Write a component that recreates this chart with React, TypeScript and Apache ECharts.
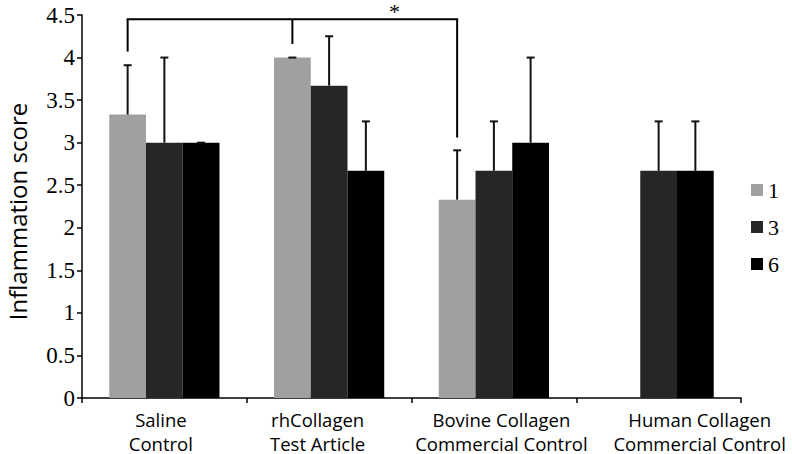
import React, { useEffect, useRef } from "react";
import * as echarts from "echarts";

const categories = [
  "Saline\nControl",
  "rhCollagen\nTest Article",
  "Bovine Collagen\nCommercial Control",
  "Human Collagen\nCommercial Control",
];
const seriesNames = ["1", "3", "6"];
const day1 = [3.33, 4.0, 2.33, null];
const day3 = [3.0, 3.67, 2.67, 2.67];
const day6 = [3.0, 2.67, 3.0, 2.67];
const err1 = [0.58, 0, 0.58, null];
const err3 = [1.0, 0.58, 0.58, 0.58];
const err6 = [0, 0.58, 1.0, 0.58];
const yTicks = [0, 0.5, 1, 1.5, 2, 2.5, 3, 3.5, 4, 4.5];

// significance bracket: legs over the "1" bar of each group
const bracketLegs = [
  { cat: 0, bottom: 4.07 },
  { cat: 1, bottom: 4.16 },
  { cat: 2, bottom: 3.06 },
];
const bracketTop = 4.45;
const starValue = 4.68;

const colors = ["#a0a0a0", "#262626", "#000000"];
const barFrac = 0.223;
const labelShift = [-3.5, -11.5, 7.5, 41];

export default function App() {
  const ref = useRef<HTMLDivElement>(null);
  useEffect(() => {
    if (!ref.current) return;
    const chart = echarts.init(ref.current, null, { renderer: "svg" });
    const vals = [day1, day3, day6];
    const errs = [err1, err3, err6];

    const rich: any = {};
    labelShift.forEach((d, i) => {
      rich["c" + i] = {
        fontFamily: "Open Sans",
        fontSize: 18.5,
        lineHeight: 24,
        color: "#000",
        padding: d >= 0 ? [0, 0, 0, 2 * d] : [0, -2 * d, 0, 0],
      };
    });

    const barSeries = seriesNames.map((name, k) => ({
      name,
      type: "bar",
      data: vals[k],
      barWidth: barFrac * 100 + "%",
      barGap: "0%",
      itemStyle: { color: colors[k] },
    }));

    const errSeries = seriesNames.map((name, k) => ({
      name: "err" + name,
      type: "custom",
      z: 5,
      clip: false,
      encode: { x: 0, y: 1 },
      data: categories
        .map((_, i) => [i, vals[k][i], errs[k][i]])
        .filter((d) => d[1] != null && d[2] != null),
      renderItem: (params: any, api: any) => {
        const idx = api.value(0);
        const v = api.value(1);
        const e = api.value(2);
        const catW = api.size([1, 0])[0];
        const base = api.coord([idx, v]);
        const top = api.coord([idx, v + e]);
        const x = base[0] + (k - 1) * barFrac * catW;
        const st = { stroke: "#111", lineWidth: 2 };
        return {
          type: "group",
          children: [
            { type: "line", shape: { x1: x, y1: base[1], x2: x, y2: top[1] }, style: st },
            { type: "line", shape: { x1: x - 4, y1: top[1], x2: x + 4, y2: top[1] }, style: st },
          ],
        };
      },
    }));

    const bracketSeries = {
      name: "bracket",
      type: "custom",
      z: 6,
      clip: false,
      silent: true,
      encode: { x: 0, y: 1 },
      data: [[0, bracketTop]],
      renderItem: (params: any, api: any) => {
        const catW = api.size([1, 0])[0];
        const off = -barFrac * catW;
        const topY = api.coord([0, bracketTop])[1];
        const legs = bracketLegs.map((l) => {
          const p = api.coord([l.cat, l.bottom]);
          return [p[0] + off, p[1]];
        });
        const st = { stroke: "#000", lineWidth: 2, fill: null };
        const children: any[] = [
          {
            type: "line",
            shape: { x1: legs[0][0] - 1, y1: topY, x2: legs[2][0] + 1, y2: topY },
            style: st,
          },
        ];
        legs.forEach((l) => {
          children.push({
            type: "line",
            shape: { x1: l[0], y1: topY, x2: l[0], y2: l[1] },
            style: st,
          });
        });
        const sx = legs[1][0] + 0.62 * (legs[2][0] - legs[1][0]);
        const sy = Math.max(0, api.coord([0, starValue])[1]);
        children.push({
          type: "text",
          style: {
            text: "*",
            x: sx,
            y: sy,
            font: "22px 'Liberation Serif'",
            textAlign: "center",
            textVerticalAlign: "top",
            fill: "#000",
          },
        });
        return { type: "group", children };
      },
    };

    chart.setOption({
      animation: false,
      grid: {
        left: 82,
        right: 51,
        top: 15,
        bottom: 56,
        containLabel: false,
        outerBoundsMode: "none",
      },
      legend: {
        data: seriesNames,
        orient: "vertical",
        left: 746,
        top: 174,
        itemWidth: 12,
        itemHeight: 12,
        itemGap: 15,
        icon: "rect",
        textStyle: { fontFamily: "Liberation Serif", fontSize: 22, color: "#000" },
      },
      xAxis: {
        type: "category",
        data: categories,
        axisLine: { lineStyle: { color: "#000", width: 1.5 } },
        axisTick: { show: true, length: 5, lineStyle: { color: "#000", width: 1.5 } },
        axisLabel: {
          interval: 0,
          margin: 9,
          formatter: (value: string, index: number) =>
            value
              .split("\n")
              .map((s) => "{c" + index + "|" + s + "}")
              .join("\n"),
          rich,
        },
      },
      yAxis: {
        type: "value",
        min: yTicks[0],
        max: yTicks[yTicks.length - 1],
        interval: 0.5,
        name: "Inflammation score",
        nameLocation: "middle",
        nameGap: 53,
        nameTextStyle: {
          fontFamily: "Open Sans",
          fontSize: 24,
          lineHeight: 24,
          color: "#000",
          padding: [0, 10, 0, 0],
        },
        axisLine: { show: true, lineStyle: { color: "#000", width: 1.5 } },
        axisTick: { show: true, length: 5, lineStyle: { color: "#000", width: 1.5 } },
        splitLine: { show: false },
        axisLabel: {
          margin: 7,
          fontFamily: "Liberation Serif",
          fontSize: 23,
          color: "#000",
        },
      },
      series: [...barSeries, ...errSeries, bracketSeries],
    });
    return () => chart.dispose();
  }, []);
  return <div ref={ref} style={{ width: 792, height: 454, position: "absolute", left: 0, top: 0 }} />;
}
